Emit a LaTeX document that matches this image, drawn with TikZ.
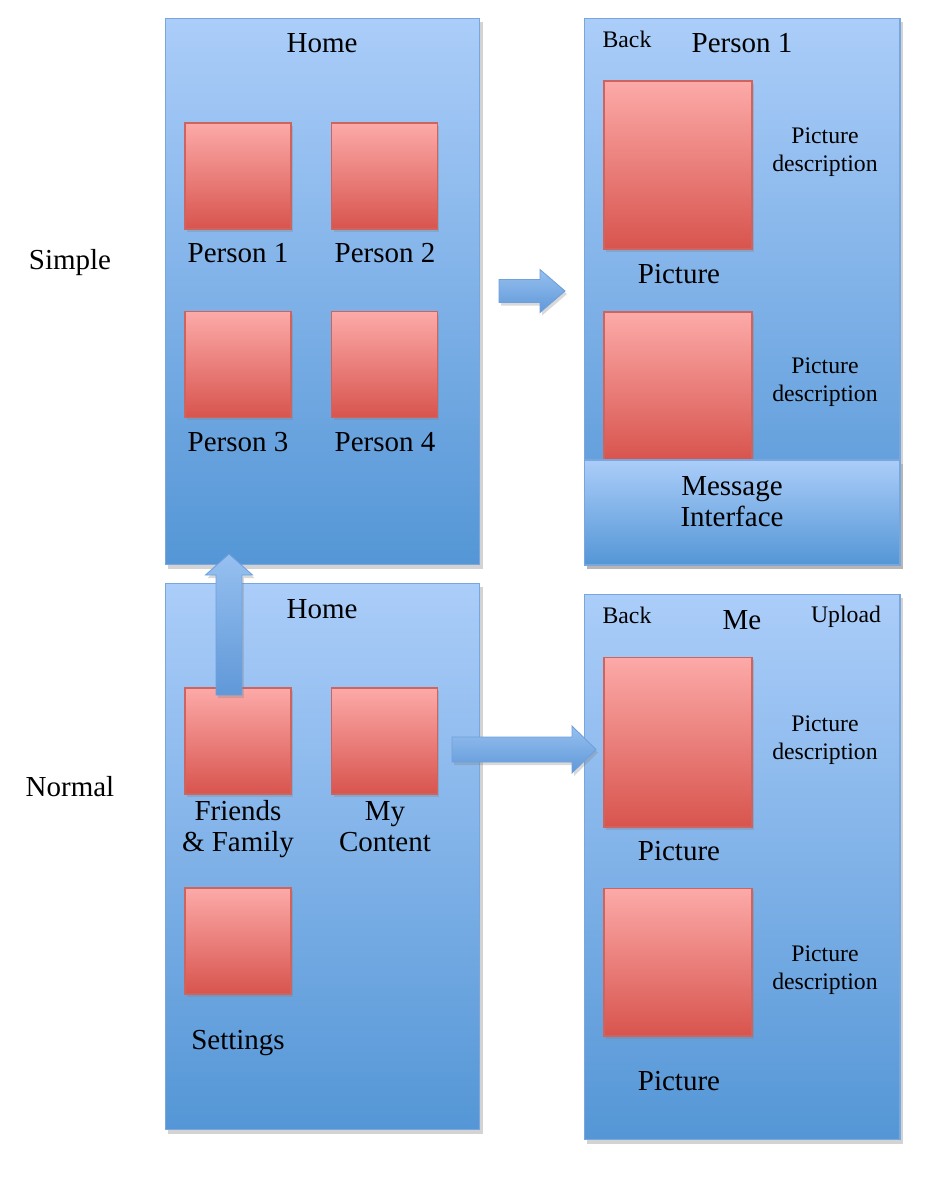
\documentclass[tikz,border=0pt]{standalone}
\usepackage{fontspec}
\setmainfont{Liberation Serif}
\usetikzlibrary{calc}
\usetikzlibrary{shadows}

\definecolor{panelTop}{RGB}{171,205,249}
\definecolor{panelBot}{RGB}{84,150,214}
\definecolor{panelLine}{RGB}{122,166,222}
\definecolor{picTop}{RGB}{252,170,168}
\definecolor{picBot}{RGB}{216,84,78}
\definecolor{picLine}{RGB}{205,100,95}
\definecolor{arrowTop}{RGB}{150,192,240}
\definecolor{arrowBot}{RGB}{96,152,216}
\definecolor{arrowLine}{RGB}{110,160,220}

\newcommand{\bigfont}{\fontsize{16.5}{17.6}\selectfont}
\newcommand{\smallfont}{\fontsize{13.5}{15.9}\selectfont}

% block arrow: tail, tip, shaft half width, head half width, head length
\newcommand{\blockarrow}[5]{%
  \coordinate (#1head) at ($(#2)!#5!(#1)$);
  \path[bigarrow] ($(#1)!#3!90:(#2)$) -- ($(#1head)!#3!90:(#2)$)
    -- ($(#1head)!#4!90:(#2)$) -- (#2) -- ($(#1head)!#4!-90:(#2)$)
    -- ($(#1head)!#3!-90:(#2)$) -- ($(#1)!#3!-90:(#2)$) -- cycle;}

\tikzset{every node/.style={align=center},
         screen/.style={ % phone screens
           draw=panelLine, line width=0.6pt,
           top color=panelTop, bottom color=panelBot,
           drop shadow={opacity=0.35, shadow xshift=0.6mm, shadow yshift=-0.8mm}},
         photo/.style={ % red picture boxes
           draw=picLine, line width=0.6pt,
           top color=picTop, bottom color=picBot,
           drop shadow={opacity=0.3, shadow xshift=0.4mm, shadow yshift=-0.6mm}},
         caption/.style={font=\bigfont, inner sep=0pt},
         note/.style={font=\smallfont, inner sep=0pt},
         bigarrow/.style={
           draw=arrowLine, line width=0.5pt,
           top color=arrowTop, bottom color=arrowBot,
           drop shadow={opacity=0.3, shadow xshift=0.4mm, shadow yshift=-0.6mm}}}

\begin{document}
\begin{tikzpicture}[x=0.02cm, y=-0.02cm]
  \useasboundingbox (0,0) rectangle (946,1178);

  \node[caption] (simple) at (70,263) {Simple};
  \node[caption] (normal) at (70,787) {Normal};

  % simple: home screen
  \node[screen, minimum width=6.3cm, minimum height=10.94cm] (homeS) at (322.5,291.5) {};
  \node[caption] (homeSTitle) at (322,43) {Home};
  \node[photo, minimum size=2.12cm] (personA) at (238,176) {};
  \node[photo, minimum size=2.12cm] (personB) at (384.5,176) {};
  \node[photo, minimum size=2.12cm] (personC) at (238,364.5) {};
  \node[photo, minimum size=2.12cm] (personD) at (384.5,364.5) {};
  \node[caption] (personAText) at (238,253) {Person 1};
  \node[caption] (personBText) at (385,253) {Person 2};
  \node[caption] (personCText) at (238,442) {Person 3};
  \node[caption] (personDText) at (385,442) {Person 4};

  % simple: person screen
  \node[screen, minimum width=6.32cm, minimum height=10.94cm] (personS) at (742,291.5) {};
  \node[note] (backS) at (627,39) {Back};
  \node[caption] (personSTitle) at (742,43) {Person 1};
  \node[photo, minimum width=2.96cm, minimum height=3.36cm] (picSA) at (678,165) {};
  \node[caption] (picSAText) at (679,274) {Picture};
  \node[note] (descSA) at (825,152) {Picture\\description};
  \node[photo, minimum width=2.96cm, minimum height=2.96cm] (picSB) at (678,386) {};
  \node[note] (descSB) at (825,382) {Picture\\description};
  \node[screen, minimum width=6.32cm, minimum height=2.1cm] (message) at (742,512.5) {};
  \node[caption] (messageText) at (732,502) {Message\\Interface};

  % normal: home screen
  \node[screen, minimum width=6.3cm, minimum height=10.94cm] (homeN) at (322.5,856.5) {};
  \node[caption] (homeNTitle) at (322,609) {Home};
  \node[photo, minimum size=2.12cm] (friends) at (238,741) {};
  \node[photo, minimum size=2.12cm] (content) at (384.5,741) {};
  \node[photo, minimum size=2.12cm] (settings) at (238,941) {};
  \node[caption] (friendsText) at (238,829) {Friends\\\& Family};
  \node[caption] (contentText) at (385,827) {My\\Content};
  \node[caption] (settingsText) at (238,1043) {Settings};

  % normal: my content screen
  \node[screen, minimum width=6.32cm, minimum height=10.92cm] (meN) at (742,867) {};
  \node[note] (backN) at (627,615) {Back};
  \node[caption] (meNTitle) at (742,620) {Me};
  \node[note] (upload) at (846,617) {Upload};
  \node[photo, minimum width=2.96cm, minimum height=3.4cm] (picNA) at (678,742) {};
  \node[caption] (picNAText) at (679,851) {Picture};
  \node[note] (descNA) at (825,740) {Picture\\description};
  \node[photo, minimum width=2.96cm, minimum height=2.96cm] (picNB) at (678,962) {};
  \node[note] (descNB) at (825,970) {Picture\\description};
  \node[caption] (picNBText) at (679,1081) {Picture};

  % arrows
  \coordinate (toPersonTail) at (499,291);
  \coordinate (toPersonTip) at (565,291);
  \coordinate (toSimpleTail) at (229,695);
  \coordinate (toSimpleTip) at (229,554);
  \coordinate (toMeTail) at (452,749.5);
  \coordinate (toMeTip) at (596,749.5);
  \blockarrow{toPersonTail}{toPersonTip}{0.23cm}{0.43cm}{0.5cm}
  \blockarrow{toSimpleTail}{toSimpleTip}{0.26cm}{0.47cm}{0.42cm}
  \blockarrow{toMeTail}{toMeTip}{0.25cm}{0.47cm}{0.48cm}
\end{tikzpicture}
\end{document}
